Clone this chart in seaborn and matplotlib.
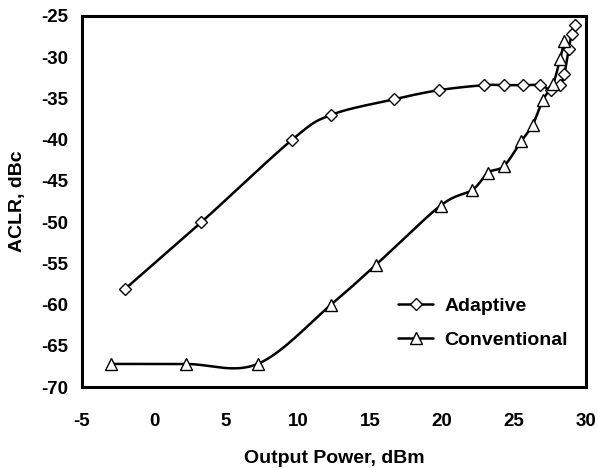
import numpy as np
import matplotlib
matplotlib.use("Agg")
import matplotlib.pyplot as plt
from matplotlib.lines import Line2D
import seaborn as sns

# values
adaptive_x = [-2.0, 3.3, 9.6, 12.3, 16.7, 19.8, 22.9, 24.3, 25.6, 26.8, 27.6, 28.2, 28.5, 28.8, 29.0, 29.2]
adaptive_y = [-58.1, -50.0, -40.0, -37.0, -35.1, -34.0, -33.4, -33.4, -33.4, -33.4, -34.0, -33.4, -32.0, -29.0, -27.2, -26.1]

conventional_x = [-3.0, 2.2, 7.2, 12.3, 15.4, 19.9, 22.1, 23.2, 24.3, 25.5, 26.3, 27.0, 27.7, 28.2, 28.5]
conventional_y = [-67.2, -67.2, -67.2, -60.0, -55.2, -48.0, -46.1, -44.0, -43.2, -40.2, -38.2, -35.2, -33.3, -30.2, -28.0]


def smooth(xs, ys, n=20):
    # Excel-style smoothed line (Catmull-Rom as cubic Bezier) through the points
    p = np.column_stack([xs, ys]).astype(float)
    p = np.vstack([p[0], p, p[-1]])
    t = np.linspace(0, 1, n)[:, None]
    out = []
    for i in range(1, len(p) - 2):
        p0, p1, p2, p3 = p[i - 1], p[i], p[i + 1], p[i + 2]
        c1 = p1 + (p2 - p0) / 6
        c2 = p2 - (p3 - p1) / 6
        seg = ((1 - t) ** 3) * p1 + 3 * ((1 - t) ** 2) * t * c1 + 3 * (1 - t) * t ** 2 * c2 + t ** 3 * p2
        out.append(seg)
    out = np.vstack(out)
    return out[:, 0], out[:, 1]


sns.set_style("white")
plt.rcParams['font.family'] = ['Liberation Sans', 'DejaVu Sans']
plt.rcParams['font.weight'] = 'bold'
plt.rcParams['axes.unicode_minus'] = False
plt.rcParams['text.color'] = 'black'
plt.rcParams['axes.labelcolor'] = 'black'
plt.rcParams['xtick.color'] = 'black'
plt.rcParams['ytick.color'] = 'black'

fig = plt.figure(figsize=(5.98, 4.68), dpi=100)
ax = fig.add_axes([0.137, 0.173, 0.843, 0.793])

for xs, ys, mk, ms in [(adaptive_x, adaptive_y, "D", 6), (conventional_x, conventional_y, "^", 8.5)]:
    sx, sy = smooth(xs, ys)
    sns.lineplot(x=sx, y=sy, sort=False, color="black", linewidth=1.8, ax=ax)
    ax.plot(xs, ys, linestyle="none", marker=mk, markersize=ms,
            markerfacecolor="white", markeredgecolor="black", markeredgewidth=1.0, zorder=3)

ax.set_xlim(-5, 30)
ax.set_ylim(-70, -25)
ax.set_xticks(range(-5, 31, 5))
ax.set_yticks(range(-70, -24, 5))

for s in ax.spines.values():
    s.set_color("black")
    s.set_linewidth(2.2)

ax.tick_params(direction="in", length=5, width=1.5, colors="black", labelsize=13.5)
ax.tick_params(axis="x", pad=19)
ax.tick_params(axis="y", pad=10)
for lab in ax.get_xticklabels() + ax.get_yticklabels():
    lab.set_fontweight("bold")

ax.set_xlabel("Output Power, dBm", fontsize=14, fontweight="bold", labelpad=14)
ax.set_ylabel("ACLR, dBc", fontsize=14, fontweight="bold", labelpad=11)

handles = [
    Line2D([], [], color="black", linewidth=1.8, marker="D", markersize=6,
           markerfacecolor="white", markeredgecolor="black"),
    Line2D([], [], color="black", linewidth=1.8, marker="^", markersize=8.5,
           markerfacecolor="white", markeredgecolor="black"),
]
ax.legend(handles, ["Adaptive", "Conventional"], loc="upper left",
          bbox_to_anchor=(0.627, 0.242), frameon=False, handlelength=1.8,
          handletextpad=0.6, borderaxespad=0, borderpad=0,
          prop={"weight": "bold", "size": 14}, labelspacing=0.85)

fig.savefig("out.png", dpi=100)
